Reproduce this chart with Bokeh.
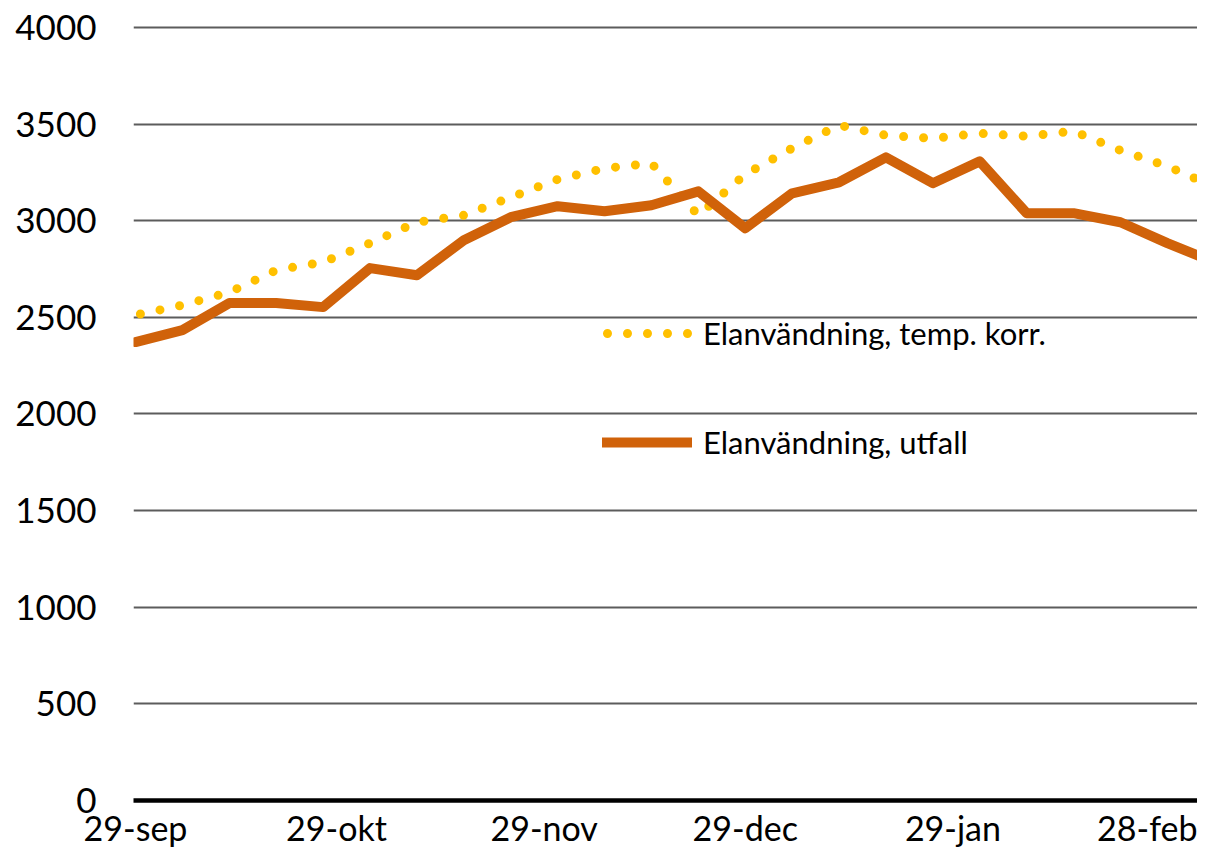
import pandas as pd
from bokeh.plotting import figure
from bokeh.models import Range1d, FixedTicker, Legend, LegendItem, ColumnDataSource
from bokeh.embed import file_html
from bokeh.resources import INLINE

# ---- data ----
dates = ["2014-09-29", "2014-10-06", "2014-10-13", "2014-10-20", "2014-10-27",
         "2014-11-03", "2014-11-10", "2014-11-17", "2014-11-24", "2014-12-01",
         "2014-12-08", "2014-12-15", "2014-12-22", "2014-12-29", "2015-01-05",
         "2015-01-12", "2015-01-19", "2015-01-26", "2015-02-02", "2015-02-09",
         "2015-02-16", "2015-02-23", "2015-03-02", "2015-03-09"]
utfall = [2372, 2434, 2574, 2574, 2553, 2755, 2718, 2899, 3018, 3075,
          3049, 3080, 3152, 2961, 3142, 3199, 3328, 3194, 3307, 3039,
          3039, 2992, 2884, 2786]
temp_korr = [2512, 2563, 2630, 2744, 2786, 2884, 2992, 3028, 3121, 3214,
             3271, 3297, 3028, 3240, 3375, 3494, 3442, 3426, 3452, 3437,
             3463, 3364, 3282, 3175]
tick_dates = ["2014-09-29", "2014-10-29", "2014-11-29", "2014-12-29", "2015-01-29", "2015-02-28"]
tick_labels = ["29-sep", "29-okt", "29-nov", "29-dec", "29-jan", "28-feb"]
y_ticks = [0, 500, 1000, 1500, 2000, 2500, 3000, 3500, 4000]
series_names = ["Elanvändning, temp. korr.", "Elanvändning, utfall"]

# ---- derived ----
t0 = pd.Timestamp(dates[0])
days = [(pd.Timestamp(d) - t0).days for d in dates]
tick_days = [(pd.Timestamp(d) - t0).days for d in tick_dates]

src = ColumnDataSource(dict(x=days, utfall=utfall, temp=temp_korr))

FONT = "Lato"
W, H = 1197, 850

p = figure(width=W, height=H, output_backend="svg", toolbar_location=None,
           x_range=Range1d(-0.3, 158.5), y_range=Range1d(0, 4139.5),
           min_border=0, min_border_left=133, min_border_bottom=49)
p.outline_line_color = None
p.background_fill_color = "white"
p.border_fill_color = "white"

# x axis
p.xaxis.ticker = FixedTicker(ticks=tick_days)
p.xaxis.major_label_overrides = {t: l for t, l in zip(tick_days, tick_labels)}
p.xaxis.major_tick_line_color = None
p.xaxis.minor_tick_line_color = None
p.xaxis.axis_line_color = "black"
p.xaxis.axis_line_width = 4.5
p.xaxis.major_label_standoff = 0
p.xaxis.major_label_text_font = FONT
p.xaxis.major_label_text_font_size = "34px"
p.xaxis.major_label_text_line_height = 1.0
p.xaxis.major_label_text_color = "black"
p.xgrid.grid_line_color = None

# y axis
p.yaxis.ticker = FixedTicker(ticks=y_ticks)
p.yaxis.major_tick_line_color = None
p.yaxis.minor_tick_line_color = None
p.yaxis.axis_line_color = None
p.yaxis.major_label_standoff = 31
p.yaxis.major_label_text_font = FONT
p.yaxis.major_label_text_font_size = "35px"
p.yaxis.major_label_text_color = "black"

p.ygrid.ticker = FixedTicker(ticks=y_ticks[1:])
p.ygrid.grid_line_color = "#5c5c5c"
p.ygrid.grid_line_width = 2

# lines
r_temp = p.line("x", "temp", source=src, line_color="#FFC000", line_width=9,
                line_dash="0 20", line_dash_offset=15, line_cap="round", line_join="round")
r_utf = p.line("x", "utfall", source=src, line_color="#D0620A", line_width=10,
               line_cap="round", line_join="round")

# legend (frame bottom at y=801 in the figure)
legend = Legend(items=[LegendItem(label=series_names[0], renderers=[r_temp]),
                       LegendItem(label=series_names[1], renderers=[r_utf])],
                location=(469, 338), orientation="vertical",
                glyph_width=90, glyph_height=40, label_height=40,
                label_standoff=11, spacing=69, padding=0, margin=0,
                border_line_color=None, background_fill_alpha=0,
                label_text_font=FONT, label_text_font_size="31px",
                label_text_color="black")
p.add_layout(legend, "center")

open("out.html", "w").write(file_html(p, INLINE))
